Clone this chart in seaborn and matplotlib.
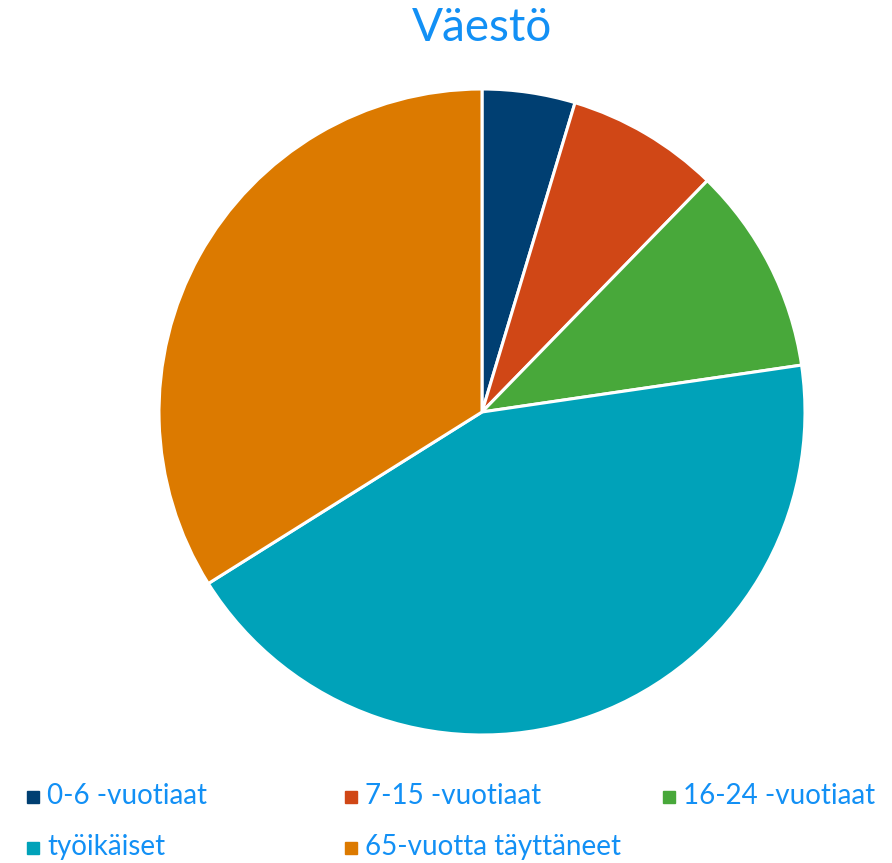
import matplotlib
matplotlib.use("Agg")
import matplotlib.pyplot as plt
import matplotlib.patches as mpatches
import seaborn as sns

# Data (shares, %)
groups = ["0-6 -vuotiaat", "7-15 -vuotiaat", "16-24 -vuotiaat",
          "työikäiset", "65-vuotta täyttäneet"]
shares = [4.65, 7.64, 10.39, 43.41, 33.91]
colors = ["#003F72", "#D04716", "#48A83A", "#00A2B9", "#DC7A00"]
text_color = "#1290F5"

sns.set_theme(style="white")
plt.rcParams['font.family'] = ['Lato', 'DejaVu Sans']

W, H = 892, 863
fig = plt.figure(figsize=(W / 100, H / 100), dpi=100)

# pie area: center (482, 412) px, radius 323 px
cx, cy, r = 482, 412, 323
ax = fig.add_axes([(cx - r) / W, (H - cy - r) / H, 2 * r / W, 2 * r / H])
ax.pie(shares, colors=colors, startangle=90, counterclock=False,
       wedgeprops=dict(edgecolor="white", linewidth=2.2))
ax.set_xlim(-1, 1)
ax.set_ylim(-1, 1)
ax.set_aspect("equal")
ax.axis("off")

fig.text(cx / W, 1 - 28 / H, "Väestö", ha="center", va="center",
         fontsize=33, color=text_color)

# legend, 3 columns
col_x = [27, 345, 663]
row_y = [797, 848]
for i, (lab, c) in enumerate(zip(groups, colors)):
    x = col_x[i % 3]
    y = row_y[i // 3]
    fig.patches.append(mpatches.Rectangle((x / W, 1 - (y + 6) / H), 12 / W, 12 / H,
                                          transform=fig.transFigure, color=c))
    fig.text((x + 20) / W, 1 - (y - 1) / H, lab, ha="left", va="center",
             fontsize=20, color=text_color)

fig.savefig("out.png", dpi=100)
